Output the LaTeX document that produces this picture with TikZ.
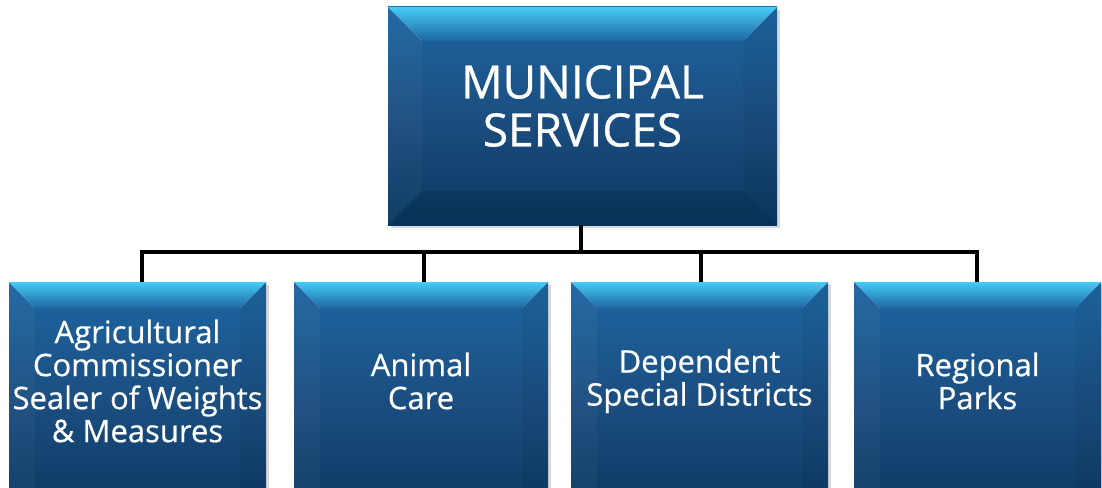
\documentclass[tikz,border=0pt]{standalone}
\usepackage{fontspec}
\setmainfont{Open Sans}
\newfontfamily\boxfont{Open Sans}[FakeBold=0.6]
\usetikzlibrary{calc}
\definecolor{btop}{HTML}{45CCF6}
\definecolor{bmidA}{HTML}{1D66A2}
\definecolor{bmidB}{HTML}{1B4E80}
\definecolor{bbot}{HTML}{0A3760}
\tikzset{
  conn/.style={line width=3.6pt, black},
  boxtext/.style={text=white, align=center, inner sep=0pt},
}
% #1 x0, #2 y0, #3 x1, #4 y1, #5 bevel
\newcommand{\bevbox}[5]{%
  \fill[black, opacity=0.15] (#1+3,#2+3) rectangle (#3+3,#4+3);
  \shade[top color=bmidA, bottom color=bbot, middle color=bmidB] (#1,#2) rectangle (#3,#4);
  \shade[top color=btop, bottom color=bmidA] (#1,#2) -- (#3,#2) -- (#3-#5,#2+#5) -- (#1+#5,#2+#5) -- cycle;
  \fill[white, opacity=0.03] (#1,#2) -- (#1+#5,#2+#5) -- (#1+#5,#4-#5) -- (#1,#4) -- cycle;
  \fill[black, opacity=0.04] (#3,#2) -- (#3-#5,#2+#5) -- (#3-#5,#4-#5) -- (#3,#4) -- cycle;
  \fill[black, opacity=0.1] (#1,#4) -- (#1+#5,#4-#5) -- (#3-#5,#4-#5) -- (#3,#4) -- cycle;
  \draw[white, opacity=0.12, line width=0.8pt] (#1,#2) -- (#1+#5,#2+#5) (#3,#2) -- (#3-#5,#2+#5);
}
\begin{document}
\begin{tikzpicture}[x=1pt,y=-1pt]
\clip (0,0) rectangle (1102,487);
\fill[white] (0,0) rectangle (1102,487);
% boxes
\bevbox{388}{7}{777}{225}{34}
\bevbox{9}{282}{266}{520}{26}
\bevbox{294}{282}{548}{520}{26}
\bevbox{571}{282}{828}{520}{26}
\bevbox{854}{282}{1101}{520}{26}
% nodes
\node[boxtext, font=\boxfont\fontsize{46}{48}\selectfont] (top) at (582.5,106) {MUNICIPAL\\SERVICES};
\coordinate (topS) at (581,225);
\node[boxtext, font=\boxfont\fontsize{31}{33}\selectfont] (b1) at (137.5,381) {Agricultural\\Commissioner\\Sealer of Weights\\\& Measures};
\node[boxtext, font=\boxfont\fontsize{31}{33}\selectfont] (b2) at (421,381) {Animal\\Care};
\node[boxtext, font=\boxfont\fontsize{31}{33}\selectfont] (b3) at (699.5,381) {Dependent\\Special Districts};
\node[boxtext, font=\boxfont\fontsize{31}{33}\selectfont] (b4) at (977.5,381) {Regional\\Parks};
\coordinate (n1) at (142,282);
\coordinate (n2) at (424,282);
\coordinate (n3) at (701,282);
\coordinate (n4) at (977,282);
\coordinate (j) at (581,252);
% connectors
\draw[conn] (topS) -- (j);
\draw[conn] (n1) -- (n1 |- j) -- (n4 |- j) -- (n4);
\draw[conn] (n2) -- (n2 |- j);
\draw[conn] (n3) -- (n3 |- j);
\end{tikzpicture}
\end{document}
